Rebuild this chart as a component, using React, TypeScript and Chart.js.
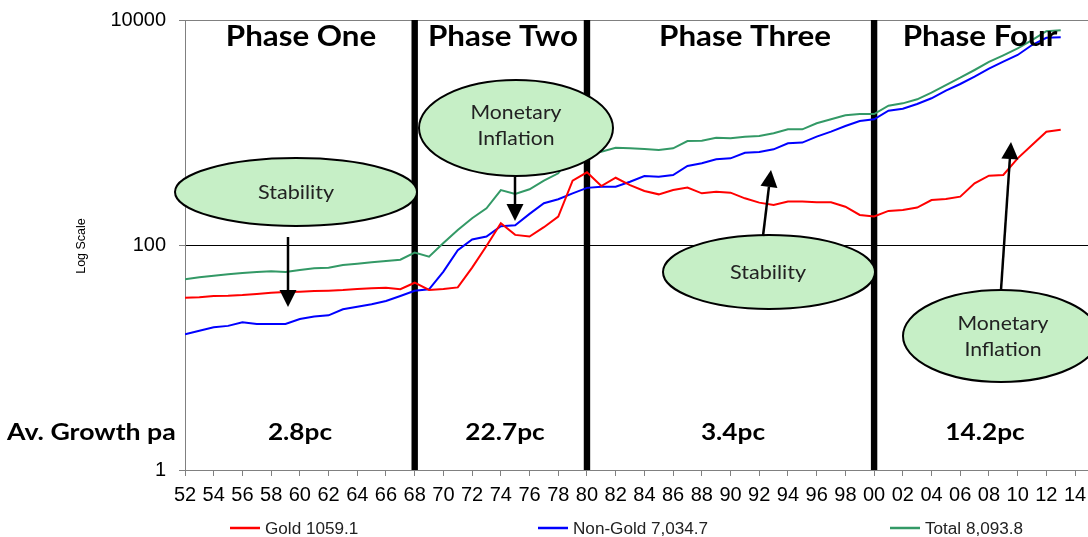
import React, { useEffect, useRef } from 'react';
import { Chart, registerables } from 'chart.js';

Chart.register(...registerables);

const years = [
  1952, 1953, 1954, 1955, 1956, 1957, 1958, 1959, 1960, 1961, 1962, 1963, 1964, 1965, 1966, 1967,
  1968, 1969, 1970, 1971, 1972, 1973, 1974, 1975, 1976, 1977, 1978, 1979, 1980, 1981, 1982, 1983,
  1984, 1985, 1986, 1987, 1988, 1989, 1990, 1991, 1992, 1993, 1994, 1995, 1996, 1997, 1998, 1999,
  2000, 2001, 2002, 2003, 2004, 2005, 2006, 2007, 2008, 2009, 2010, 2011, 2012, 2013,
];

const gold = [
  34.0, 34.3, 35.2, 35.4, 35.9, 36.7, 37.7, 38.2, 38.5, 39.0, 39.3, 39.8, 40.6, 41.2, 41.7, 40.4,
  46.2, 39.8, 40.6, 42.0, 63, 98, 156, 123, 119, 144, 179, 373, 443, 334, 396, 341,
  302, 282, 308, 324, 288, 298, 292, 260, 238, 227, 243, 243, 240, 240, 219, 185,
  179, 201, 205, 215, 251, 256, 269, 353, 413, 419, 589, 774, 1017, 1059.1,
];

const nonGold = [
  16.1, 17.3, 18.6, 19.1, 20.6, 19.9, 19.9, 19.9, 22.0, 23.1, 23.7, 26.8, 28.3, 29.7, 31.8, 35.2,
  39.2, 40.4, 58, 90, 112, 119, 147, 150, 189, 235, 255, 288, 322, 330, 330, 365,
  410, 405, 419, 504, 532, 578, 589, 661, 671, 709, 802, 813, 918, 1017, 1142, 1265,
  1310, 1563, 1629, 1791, 2014, 2354, 2699, 3134, 3690, 4263, 4887, 5995, 6950, 7034.7,
];

const total = [
  49.5, 51.6, 53.4, 54.9, 56.4, 57.5, 58.4, 57.5, 59.9, 62.1, 62.9, 66.4, 68.2, 70.2, 72.1, 74.0,
  85.5, 78.7, 104, 136, 173, 212, 308, 284, 313, 373, 434, 640, 700, 676, 733, 723,
  713, 699, 723, 840, 846, 899, 888, 918, 931, 984, 1067, 1067, 1208, 1310, 1422, 1459,
  1459, 1730, 1816, 1972, 2258, 2643, 3069, 3594, 4236, 4853, 5599, 6637, 7950, 8093.8,
];

const tickYears = [
  1952, 1954, 1956, 1958, 1960, 1962, 1964, 1966, 1968, 1970, 1972, 1974, 1976, 1978, 1980, 1982,
  1984, 1986, 1988, 1990, 1992, 1994, 1996, 1998, 2000, 2002, 2004, 2006, 2008, 2010, 2012, 2014,
];
const tickLabels = [
  '52', '54', '56', '58', '60', '62', '64', '66', '68', '70', '72', '74', '76', '78', '80', '82',
  '84', '86', '88', '90', '92', '94', '96', '98', '00', '02', '04', '06', '08', '10', '12', '14',
];
const yTicks = [1, 100, 10000];

const phaseBreaks = [1968, 1980, 2000];
const phaseTitles = ['Phase One', 'Phase Two', 'Phase Three', 'Phase Four'];
const growthLabels = ['2.8pc', '22.7pc', '3.4pc', '14.2pc'];
const growthTitle = 'Av. Growth pa';
const yAxisTitle = 'Log Scale';
const seriesNames = ['Gold 1059.1', 'Non-Gold 7,034.7', 'Total 8,093.8'];
const seriesColors = ['#ff0000', '#0000ff', '#339966'];

const CALLOUT_FONT = 'Lato, "Open Sans", sans-serif';
const ARIAL = '"Liberation Sans", Arial, sans-serif';

function drawEllipse(ctx: CanvasRenderingContext2D, cx: number, cy: number, rx: number, ry: number) {
  ctx.save();
  ctx.beginPath();
  ctx.ellipse(cx, cy, rx, ry, 0, 0, Math.PI * 2);
  ctx.fillStyle = '#c6efc6';
  ctx.fill();
  ctx.lineWidth = 2;
  ctx.strokeStyle = '#000';
  ctx.stroke();
  ctx.restore();
}

function drawArrow(ctx: CanvasRenderingContext2D, x1: number, y1: number, x2: number, y2: number) {
  const ang = Math.atan2(y2 - y1, x2 - x1);
  const headLen = 17;
  const headHalf = 8.5;
  const bx = x2 - headLen * Math.cos(ang);
  const by = y2 - headLen * Math.sin(ang);
  ctx.save();
  ctx.strokeStyle = '#000';
  ctx.lineWidth = 2.5;
  ctx.beginPath();
  ctx.moveTo(x1, y1);
  ctx.lineTo(bx, by);
  ctx.stroke();
  ctx.fillStyle = '#000';
  ctx.beginPath();
  ctx.moveTo(x2, y2);
  ctx.lineTo(bx + headHalf * Math.sin(ang), by - headHalf * Math.cos(ang));
  ctx.lineTo(bx - headHalf * Math.sin(ang), by + headHalf * Math.cos(ang));
  ctx.closePath();
  ctx.fill();
  ctx.restore();
}

function drawText(
  ctx: CanvasRenderingContext2D,
  text: string,
  x: number,
  y: number,
  font: string,
  align: CanvasTextAlign,
  sx: number,
  color: string
) {
  ctx.save();
  ctx.font = font;
  ctx.fillStyle = color;
  ctx.textAlign = align;
  ctx.textBaseline = 'alphabetic';
  ctx.translate(x, y);
  ctx.scale(sx, 1);
  ctx.fillText(text, 0, 0);
  ctx.restore();
}

const annotationPlugin = {
  id: 'phaseAnnotations',
  beforeDatasetsDraw(chart: any) {
    const { ctx, chartArea, scales } = chart;
    ctx.save();
    ctx.fillStyle = '#000';
    phaseBreaks.forEach((yr) => {
      const x = scales.x.getPixelForValue(yr);
      ctx.fillRect(x - 3.2, chartArea.top, 6.4, chartArea.bottom - chartArea.top);
    });
    ctx.restore();
  },
  afterDraw(chart: any) {
    const { ctx } = chart;
    const titleX = [301, 503, 745, 980];
    phaseTitles.forEach((t, i) => {
      drawText(ctx, t, titleX[i], 46, `bold 29px ${CALLOUT_FONT}`, 'center', 1.08, '#000');
    });

    const growthX = [300, 505, 733, 985];
    drawText(ctx, growthTitle, 7, 440, `bold 23px ${CALLOUT_FONT}`, 'left', 1.16, '#000');
    growthLabels.forEach((t, i) => {
      drawText(ctx, t, growthX[i], 440, `bold 23px ${CALLOUT_FONT}`, 'center', 1.14, '#000');
    });

    // callouts
    drawEllipse(ctx, 296, 192, 121, 34);
    drawText(ctx, 'Stability', 296, 199, `20px ${CALLOUT_FONT}`, 'center', 1.08, '#222');
    drawArrow(ctx, 288, 237, 288, 307);

    drawEllipse(ctx, 516, 128, 97, 48);
    drawText(ctx, 'Monetary', 516, 119, `20px ${CALLOUT_FONT}`, 'center', 1.06, '#222');
    drawText(ctx, 'Inflation', 516, 145, `20px ${CALLOUT_FONT}`, 'center', 1.06, '#222');
    drawArrow(ctx, 515, 177, 515, 221);

    drawEllipse(ctx, 769, 272, 106, 37);
    drawText(ctx, 'Stability', 768, 279, `20px ${CALLOUT_FONT}`, 'center', 1.08, '#222');
    drawArrow(ctx, 763, 236, 771, 170);

    drawEllipse(ctx, 1001, 336, 98, 46);
    drawText(ctx, 'Monetary', 1003, 330, `20px ${CALLOUT_FONT}`, 'center', 1.06, '#222');
    drawText(ctx, 'Inflation', 1003, 356, `20px ${CALLOUT_FONT}`, 'center', 1.06, '#222');
    drawArrow(ctx, 1001, 290, 1011, 142);

    // y axis title
    ctx.save();
    ctx.translate(82, 246);
    ctx.rotate(-Math.PI / 2);
    ctx.font = `12.5px ${ARIAL}`;
    ctx.fillStyle = '#000';
    ctx.textAlign = 'center';
    ctx.textBaseline = 'middle';
    ctx.fillText(yAxisTitle, 0, 0);
    ctx.restore();

    // legend
    const legendX = [230, 538, 890];
    seriesNames.forEach((name, i) => {
      ctx.save();
      ctx.strokeStyle = seriesColors[i];
      ctx.lineWidth = 2.5;
      ctx.beginPath();
      ctx.moveTo(legendX[i], 528);
      ctx.lineTo(legendX[i] + 30, 528);
      ctx.stroke();
      ctx.restore();
      drawText(ctx, name, legendX[i] + 35, 533.5, `16px ${ARIAL}`, 'left', 1.07, '#222');
    });
  },
};

export default function App() {
  const canvasRef = useRef<HTMLCanvasElement | null>(null);

  useEffect(() => {
    document.body.style.margin = '0';
    const canvas = canvasRef.current;
    if (!canvas) return;
    const mk = (vals: number[]) => years.map((yr, i) => ({ x: yr, y: vals[i] }));
    const chart = new Chart(canvas, {
      type: 'line',
      data: {
        datasets: [
          { label: seriesNames[0], data: mk(gold), borderColor: seriesColors[0], backgroundColor: seriesColors[0], borderWidth: 2, pointRadius: 0, tension: 0 },
          { label: seriesNames[1], data: mk(nonGold), borderColor: seriesColors[1], backgroundColor: seriesColors[1], borderWidth: 2, pointRadius: 0, tension: 0 },
          { label: seriesNames[2], data: mk(total), borderColor: seriesColors[2], backgroundColor: seriesColors[2], borderWidth: 2, pointRadius: 0, tension: 0 },
        ],
      },
      options: {
        responsive: false,
        animation: false,
        devicePixelRatio: 1,
        layout: { padding: { top: 20, left: 0, right: 0, bottom: 0 } },
        plugins: { legend: { display: false }, tooltip: { enabled: false } },
        scales: {
          x: {
            type: 'linear',
            min: 1952,
            max: 2014.9,
            afterBuildTicks: (scale: any) => {
              scale.ticks = tickYears.map((v) => ({ value: v }));
            },
            afterFit: (scale: any) => {
              scale.height = 67;
              scale.paddingLeft = 0;
              scale.paddingRight = 0;
            },
            ticks: {
              autoSkip: false,
              maxRotation: 0,
              padding: 7,
              color: '#000',
              font: { family: ARIAL, size: 20 },
              callback: (v: any) => {
                const i = tickYears.indexOf(Number(v));
                return i >= 0 ? tickLabels[i] : '';
              },
            },
            grid: { drawOnChartArea: false, drawTicks: true, tickLength: 6, tickColor: '#808080' },
            border: { color: '#808080', width: 1 },
          },
          y: {
            type: 'logarithmic',
            min: 1,
            max: 10000,
            afterBuildTicks: (scale: any) => {
              scale.ticks = yTicks.map((v) => ({ value: v }));
            },
            afterFit: (scale: any) => {
              scale.width = 185;
              scale.paddingTop = 0;
              scale.paddingBottom = 0;
            },
            ticks: {
              padding: 13,
              color: '#000',
              font: { family: ARIAL, size: 20 },
              callback: (v: any) => String(v),
            },
            grid: {
              drawTicks: true,
              tickLength: 6,
              tickColor: '#808080',
              color: (c: any) => (c.tick && c.tick.value === 100 ? '#000' : '#808080'),
              lineWidth: 1,
            },
            border: { color: '#808080', width: 1 },
          },
        },
      },
      plugins: [annotationPlugin],
    });
    return () => chart.destroy();
  }, []);

  return (
    <div style={{ width: 1088, height: 537 }}>
      <canvas ref={canvasRef} width={1088} height={537} style={{ display: 'block' }} />
    </div>
  );
}
